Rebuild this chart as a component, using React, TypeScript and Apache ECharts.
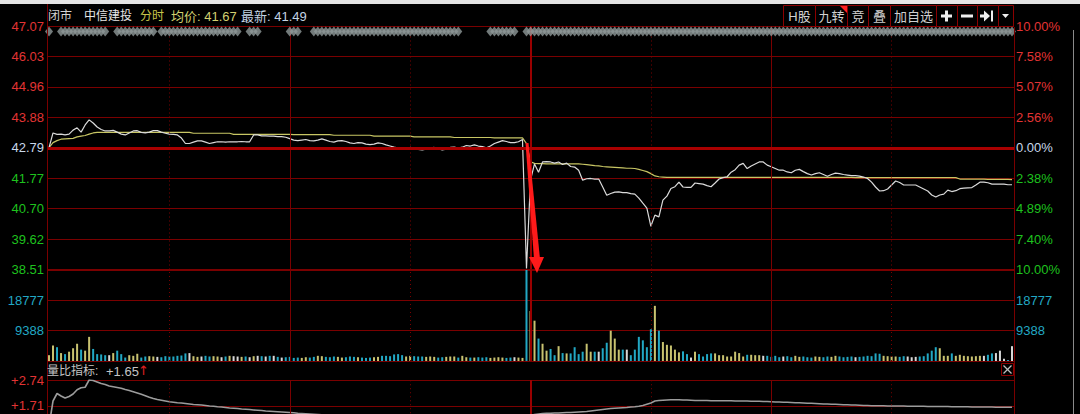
import React, { useEffect, useRef } from 'react';
import * as echarts from 'echarts';

const stockName = '中信建投';
const prevClose = 42.79;
const priceTickLabels = ['38.51', '39.62', '40.70', '41.77', '42.79', '43.88', '44.96', '46.03', '47.07'];
const pctTickLabels = ['10.00%', '7.40%', '4.89%', '2.38%', '0.00%', '2.56%', '5.07%', '7.58%', '10.00%'];
const volTickLabels = ['', '9388', '18777', ''];
const ratioTickLabels = ['', '', '+1.71', '+2.74'];
const timeGridMinutes = [30, 60, 90, 120, 150, 180, 210];

const price = [
  42.79, 43.31, 43.26, 43.27, 43.24, 43.27, 43.41, 43.49, 43.34, 43.59,
  43.77, 43.66, 43.52, 43.43, 43.38, 43.38, 43.40, 43.34, 43.27, 43.24,
  43.31, 43.38, 43.39, 43.33, 43.31, 43.34, 43.39, 43.39, 43.34, 43.30,
  43.27, 43.26, 43.24, 43.13, 42.94, 42.94, 42.99, 43.03, 43.03, 42.99,
  42.94, 42.97, 43.00, 43.00, 42.99, 43.00, 43.00, 43.00, 43.01, 43.00,
  43.00, 43.24, 43.24, 43.21, 43.21, 43.20, 43.20, 43.18, 43.18, 43.16,
  43.11, 43.06, 43.04, 43.06, 43.08, 43.04, 43.03, 43.06, 43.10, 43.06,
  43.01, 42.99, 43.03, 43.04, 43.01, 42.96, 42.94, 42.97, 42.96, 42.92,
  42.90, 42.92, 42.96, 42.94, 42.89, 42.85, 42.81, 42.78, 42.74, 42.76,
  42.80, 42.78, 42.73, 42.71, 42.74, 42.78, 42.80, 42.76, 42.71, 42.74,
  42.80, 42.81, 42.78, 42.81, 42.87, 42.85, 42.89, 42.85, 42.83, 42.79,
  42.85, 42.94, 42.99, 43.04, 43.01, 42.97, 42.97, 43.00, 43.08, 38.55,
  41.65, 42.22, 41.93, 42.29, 42.30, 42.29, 42.25, 42.29, 42.20, 42.25,
  42.13, 42.11, 42.00, 41.65, 41.70, 41.71, 41.69, 41.69, 41.41, 41.12,
  41.18, 41.23, 41.24, 41.21, 41.21, 41.18, 41.16, 41.02, 40.84, 40.67,
  40.03, 40.42, 40.36, 40.95, 41.09, 41.36, 41.42, 41.58, 41.41, 41.40,
  41.40, 41.55, 41.53, 41.51, 41.46, 41.42, 41.55, 41.69, 41.74, 41.77,
  41.93, 42.02, 42.18, 42.24, 42.06, 42.15, 42.22, 42.29, 42.29, 42.18,
  42.12, 42.06, 42.00, 42.00, 41.94, 41.91, 42.00, 42.03, 41.95, 41.88,
  41.83, 41.88, 41.91, 41.85, 41.79, 41.85, 41.90, 41.88, 41.85, 41.83,
  41.81, 41.81, 41.79, 41.76, 41.71, 41.58, 41.41, 41.27, 41.28, 41.34,
  41.48, 41.62, 41.57, 41.48, 41.48, 41.48, 41.48, 41.41, 41.34, 41.27,
  41.13, 41.06, 41.13, 41.16, 41.30, 41.25, 41.28, 41.35, 41.37, 41.38,
  41.39, 41.48, 41.58, 41.58, 41.56, 41.51, 41.51, 41.51, 41.51, 41.49,
  41.49,
];

const avgPrice = [
  42.79, 42.97, 43.04, 43.09, 43.10, 43.11, 43.12, 43.17, 43.20, 43.22,
  43.27, 43.31, 43.33, 43.33, 43.33, 43.33, 43.33, 43.33, 43.33, 43.33,
  43.33, 43.33, 43.33, 43.33, 43.33, 43.33, 43.33, 43.33, 43.33, 43.33,
  43.33, 43.33, 43.33, 43.33, 43.33, 43.33, 43.30, 43.30, 43.30, 43.30,
  43.30, 43.30, 43.30, 43.30, 43.30, 43.30, 43.26, 43.26, 43.26, 43.26,
  43.26, 43.26, 43.26, 43.26, 43.26, 43.26, 43.26, 43.26, 43.26, 43.26,
  43.26, 43.25, 43.25, 43.25, 43.25, 43.25, 43.25, 43.25, 43.25, 43.25,
  43.25, 43.23, 43.23, 43.23, 43.23, 43.23, 43.23, 43.23, 43.23, 43.23,
  43.23, 43.20, 43.20, 43.20, 43.20, 43.20, 43.20, 43.20, 43.20, 43.20,
  43.20, 43.17, 43.17, 43.17, 43.17, 43.17, 43.17, 43.17, 43.17, 43.17,
  43.17, 43.15, 43.15, 43.15, 43.15, 43.15, 43.15, 43.15, 43.15, 43.15,
  43.15, 43.14, 43.14, 43.14, 43.14, 43.14, 43.14, 43.14, 43.14, 42.94,
  42.30, 42.24, 42.23, 42.23, 42.22, 42.22, 42.22, 42.22, 42.22, 42.22,
  42.22, 42.22, 42.22, 42.21, 42.20, 42.18, 42.16, 42.15, 42.13, 42.12,
  42.11, 42.10, 42.09, 42.08, 42.07, 42.07, 42.06, 42.03, 41.99, 41.95,
  41.88, 41.80, 41.77, 41.76, 41.75, 41.75, 41.75, 41.75, 41.75, 41.75,
  41.75, 41.75, 41.75, 41.75, 41.75, 41.75, 41.75, 41.75, 41.75, 41.75,
  41.75, 41.75, 41.75, 41.75, 41.75, 41.75, 41.75, 41.75, 41.75, 41.75,
  41.75, 41.75, 41.75, 41.75, 41.75, 41.75, 41.75, 41.75, 41.75, 41.75,
  41.75, 41.75, 41.75, 41.75, 41.75, 41.75, 41.75, 41.75, 41.75, 41.75,
  41.75, 41.74, 41.74, 41.74, 41.74, 41.74, 41.74, 41.74, 41.74, 41.74,
  41.74, 41.74, 41.74, 41.74, 41.74, 41.74, 41.74, 41.74, 41.74, 41.74,
  41.74, 41.74, 41.74, 41.74, 41.74, 41.74, 41.74, 41.69, 41.69, 41.69,
  41.69, 41.69, 41.69, 41.69, 41.68, 41.68, 41.68, 41.68, 41.68, 41.68,
  41.67,
];

const volume = [
  1800, 4800, 4270, 2450, 2130, 2880, 3950, 5340, 3520, 3200,
  7470, 3730, 2130, 2030, 1800, 1800, 2450, 3200, 2130, 1070,
  1800, 1600, 2240, 1070, 1390, 1490, 1390, 1280, 1170, 1490,
  1390, 1390, 1600, 1700, 2350, 2450, 1490, 1280, 1390, 1600,
  1390, 1490, 1390, 1170, 1390, 1600, 1490, 1390, 1280, 1390,
  1170, 1490, 1600, 1490, 1390, 1600, 1600, 1280, 1060, 1170,
  1280, 960, 1060, 960, 1170, 1060, 1280, 1600, 1490, 1280,
  1170, 1390, 1280, 1060, 1170, 1390, 1280, 1170, 1060, 960,
  1060, 1170, 1280, 1600, 1600, 1490, 2030, 2130, 1810, 1390,
  1600, 1490, 1390, 1390, 1280, 1390, 1280, 1060, 1170, 1280,
  1390, 1390, 1060, 1600, 1170, 1060, 1060, 1170, 1060, 1170,
  960, 1060, 1170, 1060, 960, 1060, 1170, 1060, 960, 42000,
  15470, 12480, 6940, 5340, 3200, 3730, 1800, 4590, 2450, 2350,
  2350, 4270, 2130, 2880, 5340, 2880, 2880, 2880, 3950, 5650,
  9390, 6940, 3520, 3520, 3520, 1800, 3520, 7470, 6400, 4270,
  9820, 17070, 9390, 5870, 5010, 4800, 3520, 2670, 2990, 2130,
  1070, 2880, 2130, 1390, 2130, 2350, 2350, 1800, 1800, 1390,
  1390, 2880, 2450, 1390, 1920, 1920, 1800, 1800, 1600, 1600,
  1280, 1600, 1170, 1390, 1490, 1170, 1600, 1280, 1390, 1170,
  1060, 1390, 1280, 1170, 1390, 1280, 1600, 1390, 1170, 1280,
  1390, 1170, 1280, 1390, 1600, 1490, 2350, 2240, 1600, 1490,
  1390, 1390, 1280, 1490, 1390, 1170, 1280, 1390, 1490, 2350,
  3200, 4270, 3950, 1600, 1600, 2350, 1600, 1920, 1600, 1490,
  1390, 1490, 1600, 1600, 1920, 2350, 2450, 3200, 700, 300,
  4590,
];

const volumeRatio = [
  0.90, 1.90, 2.20, 2.10, 2.02, 2.08, 2.18, 2.35, 2.43, 2.45,
  2.74, 2.72, 2.66, 2.60, 2.56, 2.50, 2.47, 2.44, 2.41, 2.36,
  2.32, 2.27, 2.22, 2.17, 2.11, 2.05, 2.00, 1.96, 1.93, 1.90,
  1.87, 1.85, 1.83, 1.82, 1.80, 1.78, 1.76, 1.75, 1.74, 1.72,
  1.70, 1.69, 1.67, 1.66, 1.64, 1.62, 1.61, 1.60, 1.58, 1.57,
  1.56, 1.54, 1.53, 1.52, 1.50, 1.49, 1.48, 1.47, 1.46, 1.45,
  1.44, 1.43, 1.41, 1.40, 1.39, 1.38, 1.37, 1.36, 1.35, 1.34,
  1.33, 1.32, 1.31, 1.31, 1.30, 1.29, 1.28, 1.28, 1.27, 1.26,
  1.25, 1.25, 1.24, 1.23, 1.22, 1.22, 1.21, 1.20, 1.20, 1.19,
  1.18, 1.18, 1.17, 1.16, 1.16, 1.15, 1.14, 1.14, 1.13, 1.13,
  1.12, 1.12, 1.11, 1.10, 1.10, 1.09, 1.09, 1.08, 1.08, 1.07,
  1.07, 1.06, 1.06, 1.05, 1.05, 1.04, 1.04, 1.03, 1.03, 1.15,
  1.32, 1.36, 1.38, 1.40, 1.41, 1.41, 1.42, 1.42, 1.43, 1.44,
  1.44, 1.45, 1.46, 1.47, 1.48, 1.50, 1.52, 1.54, 1.56, 1.58,
  1.60, 1.61, 1.62, 1.63, 1.64, 1.66, 1.67, 1.69, 1.72, 1.77,
  1.82, 1.90, 1.92, 1.93, 1.94, 1.95, 1.95, 1.95, 1.94, 1.94,
  1.93, 1.92, 1.92, 1.92, 1.92, 1.91, 1.91, 1.91, 1.91, 1.91,
  1.91, 1.90, 1.90, 1.90, 1.90, 1.89, 1.89, 1.89, 1.88, 1.88,
  1.87, 1.86, 1.86, 1.85, 1.85, 1.84, 1.83, 1.83, 1.82, 1.81,
  1.81, 1.80, 1.79, 1.78, 1.78, 1.77, 1.77, 1.76, 1.75, 1.75,
  1.74, 1.74, 1.73, 1.72, 1.72, 1.71, 1.71, 1.71, 1.71, 1.70,
  1.70, 1.70, 1.70, 1.70, 1.69, 1.69, 1.69, 1.69, 1.69, 1.68,
  1.68, 1.68, 1.68, 1.68, 1.68, 1.67, 1.67, 1.67, 1.67, 1.67,
  1.66, 1.66, 1.66, 1.66, 1.66, 1.66, 1.65, 1.65, 1.65, 1.65,
  1.65,
];

// minutes (inclusive ranges) where the grey signal diamonds appear on the top row
const signalRanges = [
  [0, 0], [3, 14], [17, 26], [28, 47], [50, 52], [60, 62], [66, 102], [110, 116], [119, 240],
];

const GRID = '#7a0000';
const NUM_FONT = '"Liberation Sans", Arial, sans-serif';
const CJK_FONT = '"Liberation Sans", "Noto Sans CJK SC", sans-serif';
const YEL = '#c8c270';
const CYAN = '#22a8c4';
const WHITE = '#d8d8d8';

function buildOption() {
  const last = price.length - 1;
  const signalMinutes: number[] = [];
  signalRanges.forEach(([a, b]) => {
    for (let m = a; m <= b; m++) signalMinutes.push(m);
  });

  const vLines = timeGridMinutes.map((m) => ({
    xAxis: m,
    lineStyle: {
      color: m === 120 ? '#9a0000' : GRID,
      width: m === 120 ? 2 : 1,
      type: m % 60 === 0 ? 'solid' : [1, 3],
    },
  }));
  const markBase = {
    silent: true,
    symbol: ['none', 'none'],
    label: { show: false },
    animation: false,
  };

  const volData = volume.map((v, i) => {
    let c = YEL;
    if (i > 0) {
      if (price[i] > price[i - 1]) c = YEL;
      else if (price[i] < price[i - 1]) c = CYAN;
      else c = WHITE;
    }
    return { value: [i, v], itemStyle: { color: c } };
  });

  const richPrice = {
    g: { color: '#1ec21e', fontSize: 13, fontFamily: NUM_FONT },
    c: { color: '#c8d8ea', fontSize: 13, fontFamily: NUM_FONT },
    r: { color: '#e23434', fontSize: 13, fontFamily: NUM_FONT },
  };
  const tickKey = (i: number) => (i < 4 ? 'g' : i === 4 ? 'c' : 'r');

  const volInterval = 28166 / 3;

  const axisCommon = {
    axisLine: { show: false },
    axisTick: { show: false },
  };

  const btns = [
    { t: 'H股', x0: 783, x1: 815 },
    { t: '九转', x0: 815, x1: 847 },
    { t: '竞', x0: 847, x1: 868 },
    { t: '叠', x0: 868, x1: 890 },
    { t: '加自选', x0: 890, x1: 936 },
    { t: '', x0: 936, x1: 957 },
    { t: '', x0: 957, x1: 977 },
    { t: '', x0: 977, x1: 998 },
    { t: '', x0: 998, x1: 1013 },
  ];

  const graphics: any[] = [
    { type: 'rect', shape: { x: 0, y: 0, width: 1080, height: 4 }, style: { fill: '#e4e4e4' }, z: 10 },
    { type: 'line', shape: { x1: 47.5, y1: 4, x2: 47.5, y2: 414 }, style: { stroke: GRID, lineWidth: 1 }, z: 10 },
    { type: 'line', shape: { x1: 1014.5, y1: 27, x2: 1014.5, y2: 414 }, style: { stroke: GRID, lineWidth: 1 }, z: 10 },
    { type: 'line', shape: { x1: 1073.5, y1: 30, x2: 1073.5, y2: 414 }, style: { stroke: '#8a8a8a', lineWidth: 1 }, z: 10 },
    // header
    { type: 'text', x: 48, y: 16, style: { text: '闭市', fill: '#d4d4d4', font: `12px ${CJK_FONT}`, textVerticalAlign: 'middle' }, z: 10 },
    { type: 'text', x: 84, y: 16, style: { text: stockName, fill: '#e6e6e6', font: `12px ${CJK_FONT}`, textVerticalAlign: 'middle' }, z: 10 },
    { type: 'text', x: 140, y: 16, style: { text: '分时', fill: '#c8c64a', font: `12px ${CJK_FONT}`, textVerticalAlign: 'middle' }, z: 10 },
    { type: 'text', x: 171, y: 16, style: { text: `均价: ${avgPrice[last].toFixed(2)}`, fill: '#d2d070', font: `13px ${CJK_FONT}`, textVerticalAlign: 'middle' }, z: 10 },
    { type: 'text', x: 241, y: 16, style: { text: `最新: ${price[last].toFixed(2)}`, fill: '#c4d4e4', font: `13px ${CJK_FONT}`, textVerticalAlign: 'middle' }, z: 10 },
    // volume ratio label row
    { type: 'text', x: 47, y: 371, style: { text: '量比指标:', fill: '#c4c4c4', font: `12px ${CJK_FONT}`, textVerticalAlign: 'middle' }, z: 10 },
    { type: 'text', x: 106, y: 371, style: { text: `+${volumeRatio[last].toFixed(2)}`, fill: '#c4c4c4', font: `13px ${NUM_FONT}`, textVerticalAlign: 'middle' }, z: 10 },
    { type: 'text', x: 138, y: 370, style: { text: '↑', fill: '#e02020', font: `13px "DejaVu Sans", sans-serif`, textVerticalAlign: 'middle' }, z: 10 },
    { type: 'rect', shape: { x: 1001.5, y: 363.5, width: 12, height: 12 }, style: { fill: 'none', stroke: '#8b0000', lineWidth: 1 }, z: 10 },
    { type: 'line', shape: { x1: 1003.5, y1: 365.5, x2: 1011.5, y2: 373.5 }, style: { stroke: '#bdbdbd', lineWidth: 1.2 }, z: 10 },
    { type: 'line', shape: { x1: 1011.5, y1: 365.5, x2: 1003.5, y2: 373.5 }, style: { stroke: '#bdbdbd', lineWidth: 1.2 }, z: 10 },
    // red annotation arrow
    { type: 'polygon', shape: { points: [[525.5, 143], [528.5, 143], [540, 259], [534, 259]] }, style: { fill: '#ff1a1a' }, z: 12 },
    { type: 'polygon', shape: { points: [[529, 257], [544, 257], [537, 273]] }, style: { fill: '#ff1a1a' }, z: 12 },
  ];

  btns.forEach((b) => {
    graphics.push({
      type: 'rect',
      shape: { x: b.x0 + 0.5, y: 5.5, width: b.x1 - b.x0, height: 21 },
      style: { fill: '#000', stroke: '#8b0000', lineWidth: 1 },
      z: 10,
    });
    if (b.t) {
      graphics.push({
        type: 'text',
        x: (b.x0 + b.x1) / 2 + 0.5,
        y: 16,
        style: { text: b.t, fill: '#d0d0d0', font: `13px ${CJK_FONT}`, textAlign: 'center', textVerticalAlign: 'middle' },
        z: 11,
      });
    }
  });
  graphics.push(
    { type: 'polygon', shape: { points: [[840, 6], [847, 6], [847, 13]] }, style: { fill: '#ff2020' }, z: 11 },
    // plus
    { type: 'rect', shape: { x: 941, y: 14.5, width: 11, height: 3 }, style: { fill: '#eeeeee' }, z: 11 },
    { type: 'rect', shape: { x: 945, y: 10.5, width: 3, height: 11 }, style: { fill: '#eeeeee' }, z: 11 },
    // minus
    { type: 'rect', shape: { x: 961, y: 14.5, width: 12, height: 3 }, style: { fill: '#eeeeee' }, z: 11 },
    // arrow to end
    { type: 'rect', shape: { x: 980, y: 14.5, width: 5, height: 3 }, style: { fill: '#eeeeee' }, z: 11 },
    { type: 'polygon', shape: { points: [[984, 10.5], [990, 16], [984, 21.5]] }, style: { fill: '#eeeeee' }, z: 11 },
    { type: 'rect', shape: { x: 991, y: 10.5, width: 2, height: 11 }, style: { fill: '#eeeeee' }, z: 11 },
    // dropdown
    { type: 'polygon', shape: { points: [[1002, 14], [1009, 14], [1005.5, 18]] }, style: { fill: '#eeeeee' }, z: 11 },
  );

  return {
    animation: false,
    backgroundColor: '#000',
    grid: [
      { left: 47, right: 66, top: 26, height: 243.5, outerBoundsMode: 'none', containLabel: false },
      { left: 47, right: 66, top: 270, height: 91, outerBoundsMode: 'none', containLabel: false },
      { left: 47, right: 66, top: 380, height: 77.25, outerBoundsMode: 'none', containLabel: false },
    ],
    xAxis: [0, 1, 2].map((g) => ({ type: 'value', gridIndex: g, min: -0.5, max: 240.5, show: false })),
    yAxis: [
      { type: 'value', gridIndex: 0, min: 38.51, max: 47.07, show: false },
      {
        type: 'value', gridIndex: 0, min: 0, max: 8, interval: 1, position: 'left', ...axisCommon,
        splitLine: { show: true, lineStyle: { color: GRID, width: 1 } },
        axisLabel: {
          margin: 3, showMinLabel: true, showMaxLabel: true,
          formatter: (v: number) => {
            const i = Math.round(v);
            return `{${tickKey(i)}|${priceTickLabels[i]}}`;
          },
          rich: richPrice,
        },
      },
      {
        type: 'value', gridIndex: 0, min: 0, max: 8, interval: 1, position: 'right', ...axisCommon,
        splitLine: { show: false },
        axisLabel: {
          margin: 2, showMinLabel: true, showMaxLabel: true,
          formatter: (v: number) => {
            const i = Math.round(v);
            return `{${tickKey(i)}|${pctTickLabels[i]}}`;
          },
          rich: richPrice,
        },
      },
      {
        type: 'value', gridIndex: 1, min: 0, max: 28166, interval: volInterval, position: 'left', ...axisCommon,
        splitLine: { show: true, lineStyle: { color: GRID, width: 1 } },
        axisLabel: {
          margin: 3, color: CYAN, fontSize: 13, fontFamily: NUM_FONT,
          formatter: (v: number) => volTickLabels[Math.round(v / volInterval)] || '',
        },
      },
      {
        type: 'value', gridIndex: 1, min: 0, max: 28166, interval: volInterval, position: 'right', ...axisCommon,
        splitLine: { show: false },
        axisLabel: {
          margin: 2, color: CYAN, fontSize: 13, fontFamily: NUM_FONT,
          formatter: (v: number) => volTickLabels[Math.round(v / volInterval)] || '',
        },
      },
      { type: 'value', gridIndex: 2, min: -0.35, max: 2.74, show: false },
      {
        type: 'value', gridIndex: 2, min: 0, max: 3, interval: 1, position: 'left', ...axisCommon,
        splitLine: { show: true, lineStyle: { color: GRID, width: 1 } },
        axisLabel: {
          margin: 3, color: '#e23434', fontSize: 13, fontFamily: NUM_FONT, showMaxLabel: true,
          formatter: (v: number) => ratioTickLabels[Math.round(v)] || '',
        },
      },
    ],
    series: [
      {
        type: 'line', xAxisIndex: 0, yAxisIndex: 0, data: [[-5, prevClose]], showSymbol: false, silent: true, z: 1,
        lineStyle: { opacity: 0 },
        markLine: {
          ...markBase,
          data: [...vLines, { yAxis: prevClose, lineStyle: { color: '#a80000', width: 3, type: 'solid' } }],
        },
      },
      {
        type: 'line', xAxisIndex: 0, yAxisIndex: 0, data: avgPrice.map((v, i) => [i, v]), showSymbol: false,
        lineStyle: { color: '#c8c664', width: 1.2 }, z: 3, silent: true,
      },
      {
        type: 'line', xAxisIndex: 0, yAxisIndex: 0, data: price.map((v, i) => [i, v]), showSymbol: false,
        lineStyle: { color: '#dadada', width: 1.2 }, z: 4, silent: true,
      },
      {
        type: 'scatter', xAxisIndex: 0, yAxisIndex: 0, data: signalMinutes.map((m) => [m, 47.07]),
        symbol: 'diamond', symbolSize: [8, 10], symbolOffset: [0, 5.5], itemStyle: { color: '#8f9999' },
        clip: false, z: 5, silent: true,
      },
      {
        type: 'line', xAxisIndex: 1, yAxisIndex: 3, data: [[-5, 0]], showSymbol: false, silent: true, z: 1,
        lineStyle: { opacity: 0 },
        markLine: { ...markBase, data: vLines },
      },
      {
        type: 'bar', xAxisIndex: 1, yAxisIndex: 3, data: volData, barWidth: 2, z: 3, silent: true,
      },
      {
        type: 'line', xAxisIndex: 2, yAxisIndex: 5, data: [[-5, 0]], showSymbol: false, silent: true, z: 1,
        lineStyle: { opacity: 0 },
        markLine: { ...markBase, data: vLines },
      },
      {
        type: 'line', xAxisIndex: 2, yAxisIndex: 5, data: volumeRatio.map((v, i) => [i, v]), showSymbol: false,
        lineStyle: { color: '#9c9c9c', width: 1.6 }, z: 3, silent: true,
      },
    ],
    graphic: graphics,
  };
}

export default function App() {
  const ref = useRef<HTMLDivElement>(null);
  useEffect(() => {
    if (!ref.current) return;
    const chart = echarts.init(ref.current, undefined, { renderer: 'svg' });
    chart.setOption(buildOption() as any);
    return () => chart.dispose();
  }, []);
  return (
    <div
      ref={ref}
      style={{ position: 'fixed', left: 0, top: 0, width: 1080, height: 414, background: '#000' }}
    />
  );
}
